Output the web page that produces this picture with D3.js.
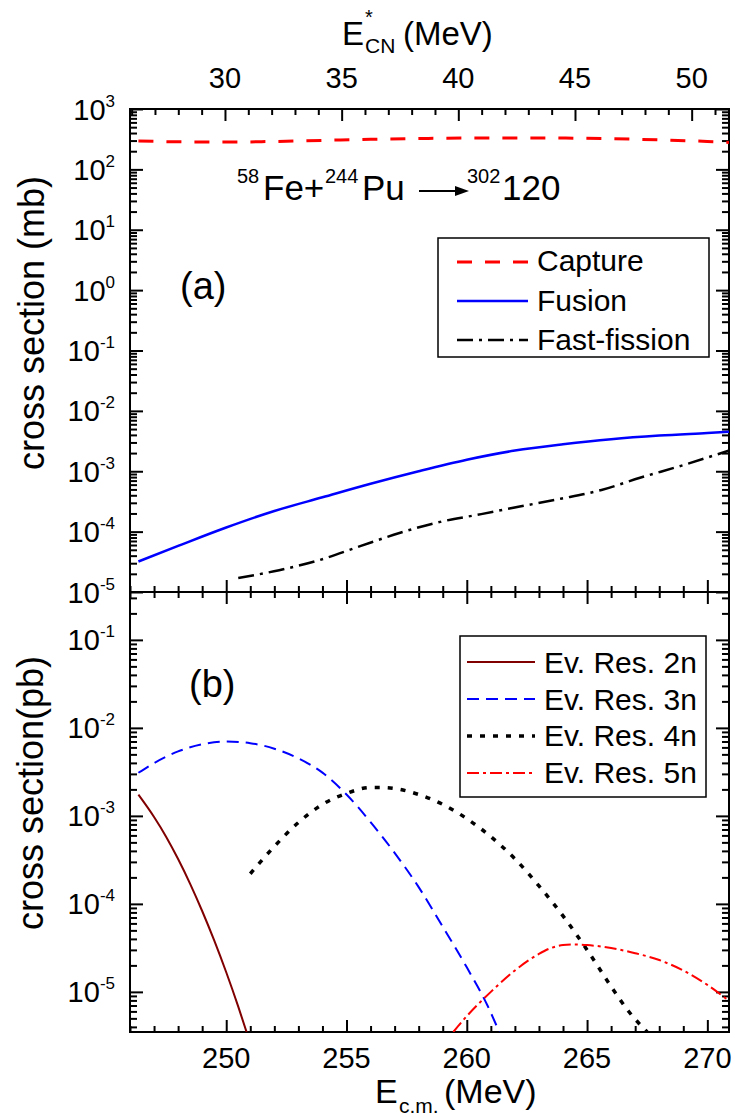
<!DOCTYPE html>
<html><head><meta charset="utf-8">
<script src="https://cdn.jsdelivr.net/npm/d3@7"></script>
<style>
body{margin:0;background:#fff;}
svg text{font-family:"Liberation Sans",Arial,sans-serif;fill:#000;}
</style></head><body>
<svg id="chart" width="735" height="1119"></svg>
<script>
// ---------------- data ----------------
const ecmTicks = [250, 255, 260, 265, 270];
const ecnTicks = [30, 35, 40, 45, 50];
const expTicksA = [3, 2, 1, 0, -1, -2, -3, -4, -5];
const expTicksB = [-1, -2, -3, -4, -5];

// panel (a): cross sections (mb) vs E_c.m. (MeV)
const captureE  = [246.35, 248, 250, 252, 254, 256, 258, 260, 262, 264, 266, 268, 270, 270.9];
const captureXS = [295, 286, 283, 290, 302, 315, 324, 330, 332, 330, 322, 308, 290, 280];

const fusionE  = [246.35, 248, 250, 252, 254, 256, 258, 260, 262, 264, 266, 268, 270, 270.9];
const fusionXS = [3.2e-5, 5.8e-5, 1.17e-4, 2.2e-4, 3.7e-4, 6.2e-4, 1.0e-3, 1.55e-3, 2.2e-3, 2.8e-3, 3.4e-3, 3.9e-3, 4.3e-3, 4.5e-3];

const ffE  = [250.5, 252.2, 253.9, 255.6, 257.2, 258.9, 260.6, 262.2, 263.9, 265.6, 267.2, 268.9, 270.9];
const ffXS = [1.7e-5, 2.3e-5, 3.4e-5, 5.8e-5, 9.5e-5, 1.45e-4, 1.95e-4, 2.6e-4, 3.5e-4, 4.9e-4, 7.8e-4, 1.23e-3, 2.2e-3];

// panel (b): evaporation residues (pb)
const er2nE  = [246.35, 247, 247.5, 248, 248.5, 249, 249.5, 250, 250.5, 250.85];
const er2nXS = [1.74e-3, 9.7e-4, 5.8e-4, 3.23e-4, 1.69e-4, 8.3e-5, 3.84e-5, 1.67e-5, 6.8e-6, 3.47e-6];

const er3nE  = [246.35, 247, 248, 249, 250, 251, 252, 253, 254, 255, 256, 257, 258, 259, 260, 260.86, 261.35];
const er3nXS = [3.09e-3, 3.98e-3, 5.4e-3, 6.5e-3, 7.0e-3, 6.7e-3, 5.8e-3, 4.5e-3, 3.1e-3, 1.75e-3, 8.5e-4, 3.8e-4, 1.55e-4, 5.5e-5, 1.9e-5, 7.0e-6, 3.5e-6];

const er4nE  = [251, 252, 253, 254, 255, 256, 256.5, 257, 258, 259, 260, 261, 262, 263, 264, 265, 266, 266.75, 267.5];
const er4nXS = [2.2e-4, 4.5e-4, 8.4e-4, 1.35e-3, 1.8e-3, 2.1e-3, 2.1e-3, 2.05e-3, 1.75e-3, 1.35e-3, 9.3e-4, 5.8e-4, 3.25e-4, 1.6e-4, 7.3e-5, 3.0e-5, 1.15e-5, 5.9e-6, 3.5e-6];

const er5nE  = [259.44, 260, 261, 262, 263, 263.5, 264, 264.5, 265, 266, 267, 268, 269, 270, 270.9];
const er5nXS = [3.5e-6, 5.3e-6, 1.0e-5, 1.75e-5, 2.7e-5, 3.15e-5, 3.4e-5, 3.45e-5, 3.4e-5, 3.15e-5, 2.75e-5, 2.3e-5, 1.75e-5, 1.2e-5, 7.9e-6];

const legendA = ["Capture", "Fusion", "Fast-fission"];
const legendB = ["Ev. Res. 2n", "Ev. Res. 3n", "Ev. Res. 4n", "Ev. Res. 5n"];

// ---------------- layout ----------------
const L = 130, R = 729, T = 109, M = 592, B = 1032;
const FONT = 29;

const svg = d3.select("#chart");
const x = d3.scaleLinear().domain([246, 270.9]).range([L, R]);
const xTop = d3.scaleLinear().domain([25.93, 51.6]).range([L, R]);
const yA = d3.scaleLog().domain([1e-5, 1e3]).range([M, T]);
const yB = d3.scaleLog().domain([3.5e-6, 0.35]).range([B, M]);

const defs = svg.append("defs");
defs.append("clipPath").attr("id", "clipA").append("rect").attr("x", L).attr("y", T).attr("width", R - L).attr("height", M - T);
defs.append("clipPath").attr("id", "clipB").append("rect").attr("x", L).attr("y", M).attr("width", R - L).attr("height", B - M);

function logMinors(scale) {
  const [a, b] = scale.domain();
  const out = [];
  for (let k = -7; k <= 3; k++) for (let m = 2; m <= 9; m++) {
    const v = m * Math.pow(10, k);
    if (v > a * 1.0001 && v < b * 0.9999) out.push(v);
  }
  return out;
}
function styleAxis(g) {
  g.select(".domain").remove();
  g.selectAll(".tick line").attr("stroke", "#000").attr("stroke-width", 2);
}
function addAxis(axis, tx, ty) {
  svg.append("g").attr("transform", `translate(${tx},${ty})`).call(axis).call(styleAxis);
}

const xMinor = d3.range(246, 271).filter(v => !ecmTicks.includes(v));
const xTopMinor = d3.range(26, 52).filter(v => !ecnTicks.includes(v));

// panel (a) ticks
addAxis(d3.axisTop(xTop).tickValues(ecnTicks).tickSize(-12).tickFormat(""), 0, T);
addAxis(d3.axisTop(xTop).tickValues(xTopMinor).tickSize(-6).tickFormat(""), 0, T);
addAxis(d3.axisBottom(x).tickValues(ecmTicks).tickSize(-12).tickFormat(""), 0, M);
addAxis(d3.axisBottom(x).tickValues(xMinor).tickSize(-6).tickFormat(""), 0, M);
const majA = expTicksA.map(e => Math.pow(10, e));
addAxis(d3.axisLeft(yA).tickValues(majA).tickSize(-13).tickFormat(""), L, 0);
addAxis(d3.axisLeft(yA).tickValues(logMinors(yA)).tickSize(-7).tickFormat(""), L, 0);
addAxis(d3.axisRight(yA).tickValues(majA).tickSize(-13).tickFormat(""), R, 0);
addAxis(d3.axisRight(yA).tickValues(logMinors(yA)).tickSize(-7).tickFormat(""), R, 0);

// panel (b) ticks
addAxis(d3.axisTop(x).tickValues(ecmTicks).tickSize(-12).tickFormat(""), 0, M);
addAxis(d3.axisTop(x).tickValues(xMinor).tickSize(-6).tickFormat(""), 0, M);
addAxis(d3.axisBottom(x).tickValues(ecmTicks).tickSize(-12).tickFormat(""), 0, B);
addAxis(d3.axisBottom(x).tickValues(xMinor).tickSize(-6).tickFormat(""), 0, B);
const majB = expTicksB.map(e => Math.pow(10, e));
addAxis(d3.axisLeft(yB).tickValues(majB).tickSize(-13).tickFormat(""), L, 0);
addAxis(d3.axisLeft(yB).tickValues(logMinors(yB)).tickSize(-7).tickFormat(""), L, 0);
addAxis(d3.axisRight(yB).tickValues(majB).tickSize(-13).tickFormat(""), R, 0);
addAxis(d3.axisRight(yB).tickValues(logMinors(yB)).tickSize(-7).tickFormat(""), R, 0);

// frames
svg.append("rect").attr("x", L).attr("y", T).attr("width", R - L).attr("height", M - T)
  .attr("fill", "none").attr("stroke", "#000").attr("stroke-width", 2);
svg.append("rect").attr("x", L).attr("y", M).attr("width", R - L).attr("height", B - M)
  .attr("fill", "none").attr("stroke", "#000").attr("stroke-width", 2);

// tick labels
svg.append("g").selectAll("text").data(ecnTicks).join("text")
  .attr("x", d => xTop(d)).attr("y", 88).attr("text-anchor", "middle")
  .attr("font-size", FONT).text(d => d);
svg.append("g").selectAll("text").data(ecmTicks).join("text")
  .attr("x", d => x(d)).attr("y", 1068).attr("text-anchor", "middle")
  .attr("font-size", FONT).text(d => d);
function powLabels(exps, scale) {
  const t = svg.append("g").selectAll("text").data(exps).join("text")
    .attr("x", 115).attr("y", d => scale(Math.pow(10, d)) + 10.5)
    .attr("text-anchor", "end").attr("font-size", FONT);
  t.append("tspan").text("10");
  t.append("tspan").attr("font-size", 17).attr("dy", -13).text(d => d);
}
powLabels(expTicksA, yA);
powLabels(expTicksB, yB);

// axis titles
const tt = svg.append("text").attr("font-size", 33);
tt.append("tspan").attr("x", 342).attr("y", 45).text("E");
tt.append("tspan").attr("x", 365).attr("y", 24).attr("font-size", 20).text("*");
tt.append("tspan").attr("x", 365).attr("y", 53).attr("font-size", 21).text("CN");
tt.append("tspan").attr("x", 403).attr("y", 45).text("(MeV)");

const bt = svg.append("text").attr("font-size", 34);
bt.append("tspan").attr("x", 375).attr("y", 1103).text("E");
bt.append("tspan").attr("x", 399).attr("y", 1113).attr("font-size", 21).text("c.m.");
bt.append("tspan").attr("x", 444).attr("y", 1103).text("(MeV)");

svg.append("text").attr("transform", "translate(44,323) rotate(-90)")
  .attr("text-anchor", "middle").attr("font-size", 36).text("cross section (mb)");
svg.append("text").attr("transform", "translate(43,793) rotate(-90)")
  .attr("text-anchor", "middle").attr("font-size", 36).text("cross section(pb)");

// panel labels
svg.append("text").attr("x", 180).attr("y", 299).attr("font-size", 38).text("(a)");
svg.append("text").attr("x", 189).attr("y", 697).attr("font-size", 38).text("(b)");

// reaction label
const rx = svg.append("g");
rx.append("text").attr("x", 237).attr("y", 183).attr("font-size", 20).text("58");
rx.append("text").attr("x", 263).attr("y", 200).attr("font-size", 35).text("Fe+");
rx.append("text").attr("x", 325).attr("y", 183).attr("font-size", 20).text("244");
rx.append("text").attr("x", 362).attr("y", 200).attr("font-size", 35).text("Pu");
rx.append("line").attr("x1", 419).attr("x2", 458).attr("y1", 191).attr("y2", 191)
  .attr("stroke", "#000").attr("stroke-width", 2);
rx.append("path").attr("d", "M469,191 L455,186 L455,196 Z").attr("fill", "#000");
rx.append("text").attr("x", 467).attr("y", 183).attr("font-size", 20).text("302");
rx.append("text").attr("x", 502).attr("y", 200).attr("font-size", 35).text("120");

// ---------------- curves ----------------
const zip = (a, b) => a.map((v, i) => [v, b[i]]);
const lineA = d3.line().x(d => x(d[0])).y(d => yA(d[1])).curve(d3.curveMonotoneX);
const lineB = d3.line().x(d => x(d[0])).y(d => yB(d[1])).curve(d3.curveMonotoneX);

const seriesA = [
  {data: zip(captureE, captureXS), color: "#ff0000", w: 3, dash: "15,13"},
  {data: zip(fusionE, fusionXS), color: "#0000ff", w: 2.5, dash: null},
  {data: zip(ffE, ffXS), color: "#000000", w: 2.5, dash: "16,6,3,6"}
];
const seriesB = [
  {data: zip(er2nE, er2nXS), color: "#800000", w: 2, dash: null},
  {data: zip(er3nE, er3nXS), color: "#0000ff", w: 2, dash: "12,7"},
  {data: zip(er4nE, er4nXS), color: "#000000", w: 3.5, dash: "5,8"},
  {data: zip(er5nE, er5nXS), color: "#ff0000", w: 2, dash: "12,4,3,4"}
];
svg.append("g").attr("clip-path", "url(#clipA)").selectAll("path").data(seriesA).join("path")
  .attr("d", d => lineA(d.data)).attr("fill", "none").attr("stroke", d => d.color)
  .attr("stroke-width", d => d.w).attr("stroke-dasharray", d => d.dash);
svg.append("g").attr("clip-path", "url(#clipB)").selectAll("path").data(seriesB).join("path")
  .attr("d", d => lineB(d.data)).attr("fill", "none").attr("stroke", d => d.color)
  .attr("stroke-width", d => d.w).attr("stroke-dasharray", d => d.dash);

// ---------------- legends ----------------
svg.append("rect").attr("x", 438).attr("y", 238).attr("width", 271).attr("height", 119)
  .attr("fill", "#fff").attr("stroke", "#000").attr("stroke-width", 1.5);
const lgA = svg.append("g").selectAll("g").data(legendA).join("g");
lgA.append("line").attr("x1", 457).attr("x2", 528)
  .attr("y1", (d, i) => 262 + i * 39).attr("y2", (d, i) => 262 + i * 39)
  .attr("stroke", (d, i) => seriesA[i].color).attr("stroke-width", (d, i) => seriesA[i].w)
  .attr("stroke-dasharray", (d, i) => seriesA[i].dash);
lgA.append("text").attr("x", 537).attr("y", (d, i) => 271 + i * 39.5)
  .attr("font-size", 30).text(d => d);

svg.append("rect").attr("x", 460).attr("y", 636).attr("width", 246).attr("height", 161)
  .attr("fill", "#fff").attr("stroke", "#000").attr("stroke-width", 1.5);
const lgB = svg.append("g").selectAll("g").data(legendB).join("g");
lgB.append("line").attr("x1", 467).attr("x2", 535)
  .attr("y1", (d, i) => 662 + i * 37).attr("y2", (d, i) => 662 + i * 37)
  .attr("stroke", (d, i) => seriesB[i].color).attr("stroke-width", (d, i) => seriesB[i].w)
  .attr("stroke-dasharray", (d, i) => seriesB[i].dash);
lgB.append("text").attr("x", 544).attr("y", (d, i) => 673 + i * 36.7)
  .attr("font-size", 30).text(d => d);
</script>
</body></html>
